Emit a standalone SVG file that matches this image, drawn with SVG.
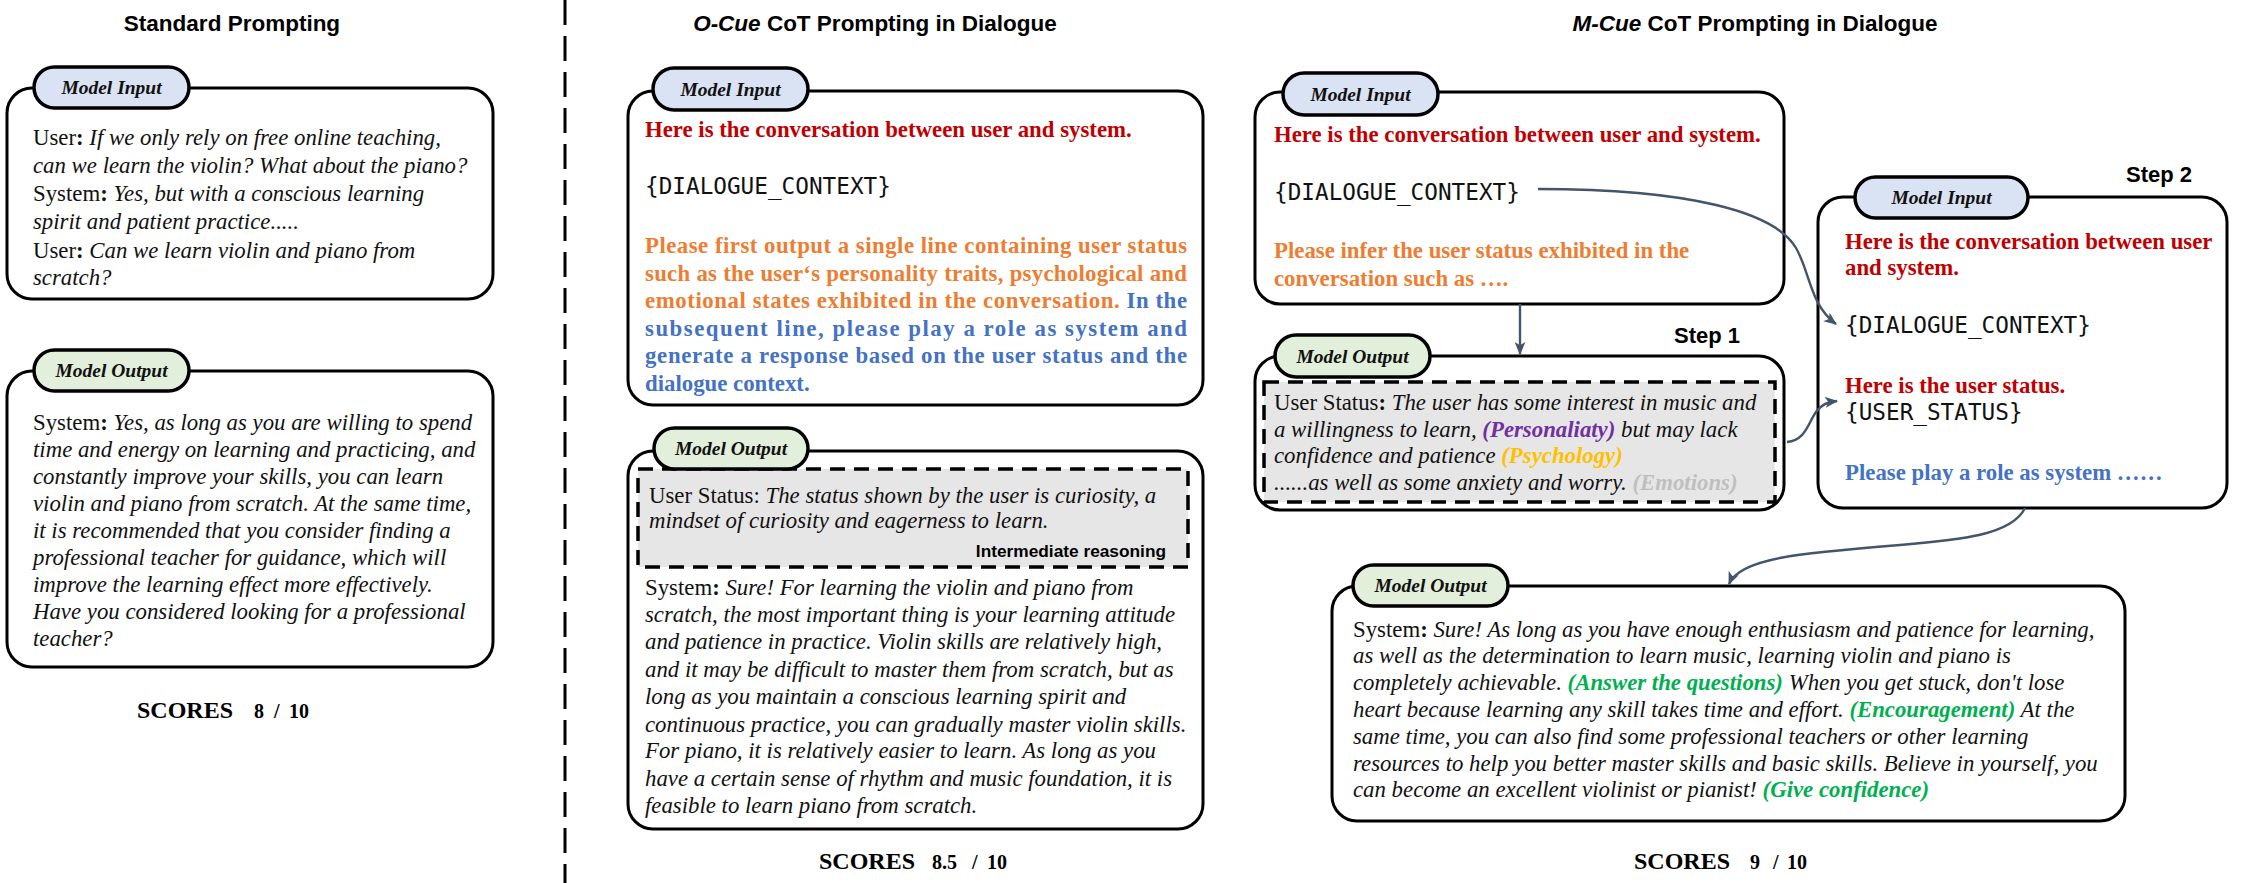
<svg xmlns="http://www.w3.org/2000/svg" width="2247" height="883" viewBox="0 0 2247 883">
<style>
.bg{fill:#fff}
.box{fill:#fff;stroke:#000;stroke-width:3}
.pin{fill:#dae3f3;stroke:#000;stroke-width:3.5}
.pout{fill:#e2efda;stroke:#000;stroke-width:3.5}
.dash{fill:#e7e6e6;stroke:#000;stroke-width:3.5;stroke-dasharray:15 9}
.lab{font-family:"Liberation Serif","Times New Roman",serif;font-weight:bold;font-style:italic;font-size:19.5px;fill:#111;text-anchor:middle}
.t{font-family:"Liberation Serif","Times New Roman",serif;font-size:22.8px;fill:#111}
.i{font-style:italic}
.b{font-weight:bold}
.bi{font-weight:bold;font-style:italic}
.title{font-family:"Liberation Sans",Arial,sans-serif;font-weight:bold;font-size:22.5px;fill:#000}
.step{font-family:"Liberation Sans",Arial,sans-serif;font-weight:bold;font-size:22px;fill:#000}
.ir{font-family:"Liberation Sans",Arial,sans-serif;font-weight:bold;font-size:17.3px;fill:#000;text-anchor:end}
.mono{font-family:"DejaVu Sans Mono",monospace;font-size:22.7px;fill:#111}
.sc{font-family:"Liberation Serif","Times New Roman",serif;font-weight:bold;fill:#000}
.red{fill:#c00000}
.org{fill:#ed7d31}
.blu{fill:#4472c4}
.grn{fill:#00b050}
.pur{fill:#7030a0}
.gld{fill:#ffc000}
.gry{fill:#bfbfbf}
.conn{fill:none;stroke:#44546a;stroke-width:2.4}
.div{stroke:#000;stroke-width:3;stroke-dasharray:25 11}
</style>
<defs>
<marker id="arr" viewBox="0 0 12 10" refX="11" refY="5" markerWidth="13" markerHeight="11" markerUnits="userSpaceOnUse" orient="auto">
<path d="M0,0 L12,5 L0,10 L3,5 z" fill="#44546a"/>
</marker>
</defs>
<rect class="bg" x="0" y="0" width="2247" height="883"/>

<g id="titles">
<text class="title" x="232" y="31" text-anchor="middle">Standard Prompting</text>
<text class="title" x="875" y="31" text-anchor="middle"><tspan font-style="italic">O-Cue</tspan> CoT Prompting in Dialogue</text>
<text class="title" x="1755" y="31" text-anchor="middle"><tspan font-style="italic">M-Cue</tspan> CoT Prompting in Dialogue</text>
</g>

<line id="divider" class="div" x1="565" y1="0" x2="565" y2="883"/>

<g id="std-input">
<rect class="box" x="7" y="88" width="486" height="211" rx="25"/>
<rect class="pin" x="34" y="67" width="155" height="41" rx="20.5"/>
<text class="lab" x="111.5" y="94">Model Input</text>
<text class="t" x="33" y="145">User<tspan class="b">:</tspan> <tspan class="i">If we only rely on free online teaching,</tspan></text>
<text class="t i" x="33" y="173">can we learn the violin? What about the piano?</text>
<text class="t" x="33" y="201">System<tspan class="b">:</tspan> <tspan class="i">Yes, but with a conscious learning</tspan></text>
<text class="t i" x="33" y="229">spirit and patient practice.....</text>
<text class="t" x="33" y="258">User<tspan class="b">:</tspan> <tspan class="i">Can we learn violin and piano from</tspan></text>
<text class="t i" x="33" y="285">scratch?</text>
</g>

<g id="std-output">
<rect class="box" x="7" y="371" width="486" height="296" rx="25"/>
<rect class="pout" x="34" y="350" width="155" height="41" rx="20.5"/>
<text class="lab" x="111.5" y="377">Model Output</text>
<text class="t" x="33" y="430">System<tspan class="b">:</tspan> <tspan class="i">Yes, as long as you are willing to spend</tspan></text>
<text class="t i" x="33" y="457">time and energy on learning and practicing, and</text>
<text class="t i" x="33" y="484">constantly improve your skills, you can learn</text>
<text class="t i" x="33" y="511">violin and piano from scratch. At the same time,</text>
<text class="t i" x="33" y="538">it is recommended that you consider finding a</text>
<text class="t i" x="33" y="565">professional teacher for guidance, which will</text>
<text class="t i" x="33" y="592">improve the learning effect more effectively.</text>
<text class="t i" x="33" y="619">Have you considered looking for a professional</text>
<text class="t i" x="33" y="646">teacher?</text>
</g>
<text id="score-std" class="sc" y="718"><tspan x="137" font-size="24px">SCORES</tspan><tspan x="254" font-size="20px">8</tspan><tspan x="274" font-size="20px">/</tspan><tspan x="289" font-size="20px">10</tspan></text>

<g id="ocue-input">
<rect class="box" x="628" y="91" width="575" height="314" rx="25"/>
<rect class="pin" x="653" y="68" width="155" height="42" rx="21"/>
<text class="lab" x="730.5" y="96">Model Input</text>
<text class="t b red" x="645" y="137">Here is the conversation between user and system.</text>
<text class="mono" x="645" y="194">{DIALOGUE_CONTEXT}</text>
<text class="t b org" x="645" y="253" textLength="542" lengthAdjust="spacing">Please first output a single line containing user status</text>
<text class="t b org" x="645" y="281" textLength="542" lengthAdjust="spacing">such as the user‘s personality traits, psychological and</text>
<text class="t b org" x="645" y="308" textLength="542" lengthAdjust="spacing">emotional states exhibited in the conversation. <tspan class="blu">In the</tspan></text>
<text class="t b blu" x="645" y="336" textLength="542" lengthAdjust="spacing">subsequent line, please play a role as system and</text>
<text class="t b blu" x="645" y="363" textLength="542" lengthAdjust="spacing">generate a response based on the user status and the</text>
<text class="t b blu" x="645" y="391">dialogue context.</text>
</g>

<g id="ocue-output">
<rect class="box" x="628" y="451" width="575" height="378" rx="25"/>
<rect class="dash" x="638" y="469" width="550" height="98"/>
<rect class="pout" x="654" y="428" width="154" height="41" rx="20.5"/>
<text class="lab" x="731" y="455">Model Output</text>
<text class="t" x="649" y="503">User Status: <tspan class="i">The status shown by the user is curiosity, a</tspan></text>
<text class="t i" x="649" y="528">mindset of curiosity and eagerness to learn.</text>
<text class="ir" x="1166" y="557">Intermediate reasoning</text>
<text class="t" x="645" y="595">System<tspan class="b">:</tspan> <tspan class="i">Sure! For learning the violin and piano from</tspan></text>
<text class="t i" x="645" y="622">scratch, the most important thing is your learning attitude</text>
<text class="t i" x="645" y="649">and patience in practice. Violin skills are relatively high,</text>
<text class="t i" x="645" y="677">and it may be difficult to master them from scratch, but as</text>
<text class="t i" x="645" y="704">long as you maintain a conscious learning spirit and</text>
<text class="t i" x="645" y="732">continuous practice, you can gradually master violin skills.</text>
<text class="t i" x="645" y="758">For piano, it is relatively easier to learn. As long as you</text>
<text class="t i" x="645" y="786">have a certain sense of rhythm and music foundation, it is</text>
<text class="t i" x="645" y="813">feasible to learn piano from scratch.</text>
</g>
<text id="score-ocue" class="sc" y="869"><tspan x="819" font-size="24px">SCORES</tspan><tspan x="932" font-size="20px">8.5</tspan><tspan x="972" font-size="20px">/</tspan><tspan x="987" font-size="20px">10</tspan></text>

<g id="mcue-step1-input">
<rect class="box" x="1255" y="92" width="529" height="212" rx="25"/>
<rect class="pin" x="1283" y="73" width="155" height="42" rx="21"/>
<text class="lab" x="1360.5" y="101">Model Input</text>
<text class="t b red" x="1274" y="142">Here is the conversation between user and system.</text>
<text class="mono" x="1274" y="200">{DIALOGUE_CONTEXT}</text>
<text class="t b org" x="1274" y="258">Please infer the user status exhibited in the</text>
<text class="t b org" x="1274" y="286">conversation such as ….</text>
</g>

<text id="step1" class="step" x="1674" y="343">Step 1</text>

<g id="mcue-step1-output">
<rect class="box" x="1255" y="356" width="529" height="154" rx="25"/>
<rect class="dash" x="1264" y="382" width="511" height="120"/>
<rect class="pout" x="1275" y="335" width="155" height="42" rx="21"/>
<text class="lab" x="1352.5" y="363">Model Output</text>
<text class="t" x="1274" y="410">User Status<tspan class="b">:</tspan> <tspan class="i">The user has some interest in music and</tspan></text>
<text class="t i" x="1274" y="437">a willingness to learn, <tspan class="bi pur">(Personaliaty)</tspan> but may lack</text>
<text class="t i" x="1274" y="463">confidence and patience <tspan class="bi gld">(Psychology)</tspan></text>
<text class="t i" x="1274" y="490">......as well as some anxiety and worry. <tspan class="bi gry">(Emotions)</tspan></text>
</g>

<text id="step2" class="step" x="2126" y="182">Step 2</text>

<g id="mcue-step2-input">
<rect class="box" x="1818" y="197" width="409" height="311" rx="25"/>
<rect class="pin" x="1855" y="177" width="173" height="41" rx="20.5"/>
<text class="lab" x="1941.5" y="204">Model Input</text>
<text class="t b red" x="1845" y="249">Here is the conversation between user</text>
<text class="t b red" x="1845" y="275">and system.</text>
<text class="mono" x="1845" y="333">{DIALOGUE_CONTEXT}</text>
<text class="t b red" x="1845" y="393">Here is the user status.</text>
<text class="mono" x="1845" y="420">{USER_STATUS}</text>
<text class="t b blu" x="1845" y="480">Please play a role as system ……</text>
</g>

<g id="mcue-output">
<rect class="box" x="1332" y="586" width="793" height="235" rx="25"/>
<rect class="pout" x="1353" y="565" width="155" height="41" rx="20.5"/>
<text class="lab" x="1430.5" y="592">Model Output</text>
<text class="t" x="1353" y="637">System<tspan class="b">:</tspan> <tspan class="i">Sure! As long as you have enough enthusiasm and patience for learning,</tspan></text>
<text class="t i" x="1353" y="663">as well as the determination to learn music, learning violin and piano is</text>
<text class="t i" x="1353" y="690">completely achievable. <tspan class="bi grn">(Answer the questions)</tspan> When you get stuck, don't lose</text>
<text class="t i" x="1353" y="717">heart because learning any skill takes time and effort. <tspan class="bi grn">(Encouragement)</tspan> At the</text>
<text class="t i" x="1353" y="744">same time, you can also find some professional teachers or other learning</text>
<text class="t i" x="1353" y="771">resources to help you better master skills and basic skills. Believe in yourself, you</text>
<text class="t i" x="1353" y="797">can become an excellent violinist or pianist! <tspan class="bi grn">(Give confidence)</tspan></text>
</g>
<text id="score-mcue" class="sc" y="869"><tspan x="1634" font-size="24px">SCORES</tspan><tspan x="1750" font-size="20px">9</tspan><tspan x="1773" font-size="20px">/</tspan><tspan x="1787" font-size="20px">10</tspan></text>

<g id="connectors">
<path class="conn" marker-end="url(#arr)" d="M1538,189 C1690,189 1775,212 1796,248 C1810,272 1810,305 1836,324"/>
<path class="conn" marker-end="url(#arr)" d="M1520,304 L1520,354"/>
<path class="conn" marker-end="url(#arr)" d="M1787,442 C1806,440 1808,423 1816,412 C1822,404 1828,402 1837,401"/>
<path class="conn" marker-end="url(#arr)" d="M2025,508 C2012,535 1960,540 1900,545 C1800,553 1740,558 1729,584"/>
</g>
</svg>
